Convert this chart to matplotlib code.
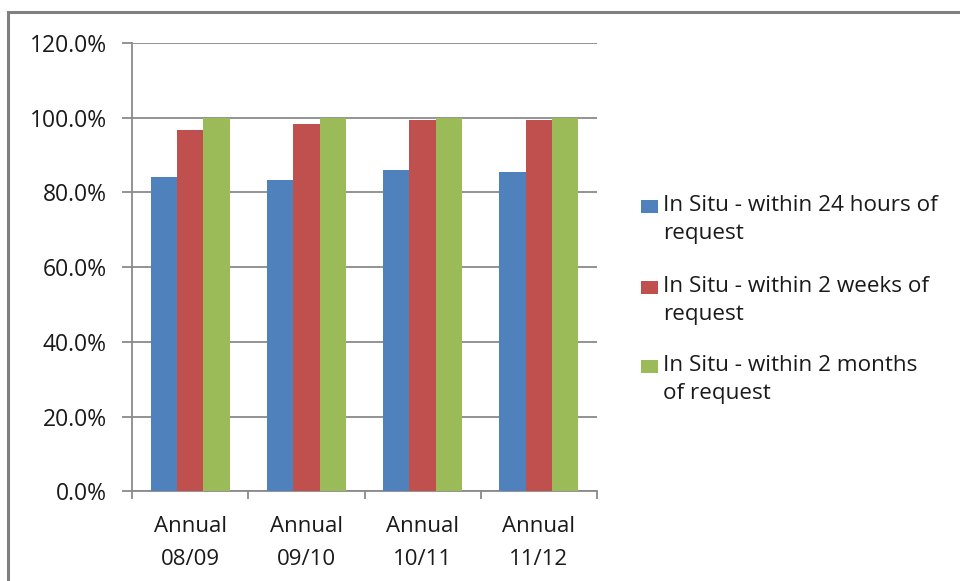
import numpy as np
import matplotlib.pyplot as plt
from matplotlib.patches import Rectangle
from matplotlib.ticker import PercentFormatter, FixedLocator

categories = ["Annual\n08/09", "Annual\n09/10", "Annual\n10/11", "Annual\n11/12"]
series_names = [
    "In Situ - within 24 hours of\nrequest",
    "In Situ - within 2 weeks of\nrequest",
    "In Situ - within 2 months\nof request",
]
within_24h = [84.0, 83.4, 86.1, 85.5]
within_2w = [96.8, 98.2, 99.5, 99.5]
within_2m = [100.0, 100.0, 100.0, 100.0]
colors = ["#4F81BD", "#C0504D", "#9BBB59"]

plt.rcParams["font.family"] = ["Open Sans", "DejaVu Sans"]

W, H = 960, 581
fig = plt.figure(figsize=(W / 100, H / 100), dpi=100)


def px(x, y):
    # pixel position (from top-left) -> figure fraction
    return x / W, 1 - y / H


ax = fig.add_axes([132 / W, 1 - 491.3 / H, 465 / W, 448.3 / H])

x = np.arange(len(categories))
w = 0.226
for i, (vals, c) in enumerate(zip([within_24h, within_2w, within_2m], colors)):
    ax.bar(x + (i - 1) * w, vals, width=w, color=c, zorder=3)

ax.set_xlim(-0.5, len(categories) - 0.5)
ax.set_ylim(0, 120)
ax.set_yticks(np.arange(0, 121, 20))
ax.yaxis.set_major_formatter(PercentFormatter(decimals=1))
ax.grid(axis="y", color="#8a8a8a", linewidth=1.3, zorder=0)

ax.set_xticks(x)
ax.set_xticklabels(categories, linespacing=1.75)
ax.xaxis.set_minor_locator(FixedLocator(np.arange(-0.5, len(categories), 1)))
ax.tick_params(axis="x", which="major", length=0, pad=18, labelsize=16, colors="#1a1a1a")
ax.tick_params(axis="x", which="minor", length=6, width=1.3, color="#8a8a8a")
ax.tick_params(axis="y", length=7.2, width=1.3, color="#8a8a8a", labelsize=16.5,
               labelcolor="#1a1a1a", pad=11)

for s in ["top", "right"]:
    ax.spines[s].set_visible(False)
for s in ["left", "bottom"]:
    ax.spines[s].set_color("#8a8a8a")
    ax.spines[s].set_linewidth(1.3)

# legend: square key aligned with the first line of each entry
baselines = [213.3, 294.0, 373.0]
for name, c, yb in zip(series_names, colors, baselines):
    x0, y0 = px(641, yb)
    fig.patches.append(Rectangle((x0, y0), 17 / W, 13 / H, transform=fig.transFigure,
                                 facecolor=c, edgecolor="none"))
    tx, ty = px(663, yb - 18)
    fig.text(tx, ty, name, fontsize=16.2, color="#1a1a1a", va="top", ha="left",
             linespacing=1.45)

fig.patches.append(Rectangle(px(8, H + 20), 1.0, (H + 20 - 12) / H, transform=fig.transFigure,
                             fill=False, edgecolor="#808080", linewidth=2.2))

fig.savefig("out.png", dpi=100)
